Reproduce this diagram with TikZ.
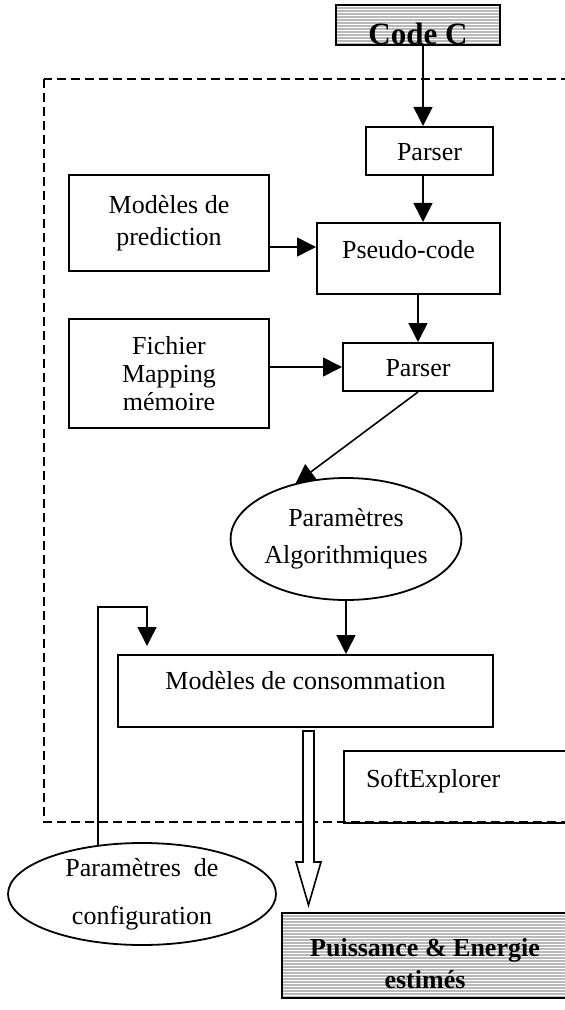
\documentclass[tikz,border=0pt]{standalone}
\usepackage{fontspec}
\setmainfont{Liberation Serif}
\usetikzlibrary{arrows.meta,shapes.geometric}

\begin{document}
\begin{tikzpicture}[x=0.5pt,y=-0.5pt,
        boite/.style={draw,line width=1pt,inner sep=1pt,align=center,font=\fontsize{13}{14}\selectfont},
        ovale/.style={draw,ellipse,line width=0.9pt,inner sep=0pt,align=center,font=\fontsize{13}{14}\selectfont},
        fleche/.style={line width=0.8pt,-{Triangle[length=9.5pt,width=9.5pt]}},
        hachure/.style={path picture={\foreach \k in {1,...,40}
            \draw[gray!55,line width=0.8pt] ([yshift=-\k*1.5pt]path picture bounding box.north west) -- ([yshift=-\k*1.5pt]path picture bounding box.north east);}},
        pointille/.style={line width=1.2pt,dash pattern=on 4.5pt off 2.5pt}]
        \path[use as bounding box,clip] (0,0) rectangle (565,1010);

        % Cadre
        \draw[pointille] (44,79) rectangle (600,822);

        % Boites
        \node[boite,hachure,line width=0.8pt,minimum width=82pt,minimum height=20pt,inner ysep=0pt,text height=19.5pt,text depth=0pt,font=\bfseries\fontsize{15.5}{16}\selectfont] (code) at (418,25) {Code C};
        \node[boite,minimum width=63.5pt,minimum height=24pt,text height=12.6pt,text depth=2.9pt] (parser1) at (429.5,151) {Parser};
        \node[boite,minimum width=100pt,minimum height=48pt] (pred) at (169,223) {Modèles de\\[2pt]prediction};
        \node[boite,minimum width=91.5pt,minimum height=35.5pt,text height=8.9pt,text depth=9.3pt] (pseudo) at (408.5,258.5) {Pseudo-code};
        \node[boite,minimum width=100pt,minimum height=54.5pt] (fichier) at (169,373.5) {Fichier\\Mapping\\mémoire};
        \node[boite,minimum width=75pt,minimum height=24pt,text height=12.6pt,text depth=2.9pt] (parser2) at (418,367) {Parser};
        \node[ovale,minimum width=109pt,minimum height=61pt] (algo) at (346,539) {Paramètres\\[4.5pt]Algorithmiques};
        \node[boite,minimum width=187.5pt,minimum height=36pt,text height=9pt,text depth=11pt] (conso) at (305.5,691) {Modèles de consommation};
        \node[boite,anchor=west,minimum height=36pt,text width=100pt,align=left,inner xsep=11pt,text height=8.8pt,text depth=8.3pt] (soft) at (343,787) {SoftExplorer};
        \node[ovale,minimum width=134pt,minimum height=51pt] (config) at (142,894) {Paramètres\ \ de\\[10pt]configuration};
        \node[boite,hachure,minimum width=143pt,minimum height=42.5pt,text height=33pt,text depth=0pt,font=\bfseries\fontsize{13}{14}\selectfont] (sortie) at (425,955.5) {Puissance \& Energie\\[2pt]estimés};

        % Fleches
        \coordinate (axe) at (423,0);
        \draw[fleche] (code.south -| axe) -- (parser1.north -| axe);
        \draw[fleche] (parser1.south -| axe) -- (pseudo.north -| axe);
        \coordinate (predout) at ([yshift=-12pt]pred.east);
        \draw[fleche] (predout) -- (predout -| pseudo.west);
        \draw[fleche] (pseudo.south -| parser2.north) -- (parser2.north);
        \draw[fleche] (fichier.east |- parser2.west) -- (parser2.west);
        \draw[fleche] (parser2.south) -- (algo.132);
        \draw[fleche] (algo.south) -- (algo.south |- conso.north);
        \coordinate (retour) at (147,607);
        \draw[fleche,shorten >=4pt] (config.132) |- (retour) -- (retour |- conso.north);

        % Grosse fleche
        \draw[line width=0.8pt,fill=white] (303,731) -- (303,862) -- (296,862) -- (308.5,905) -- (321,862) -- (314,862) -- (314,731) -- cycle;
    \end{tikzpicture}
\end{document}
